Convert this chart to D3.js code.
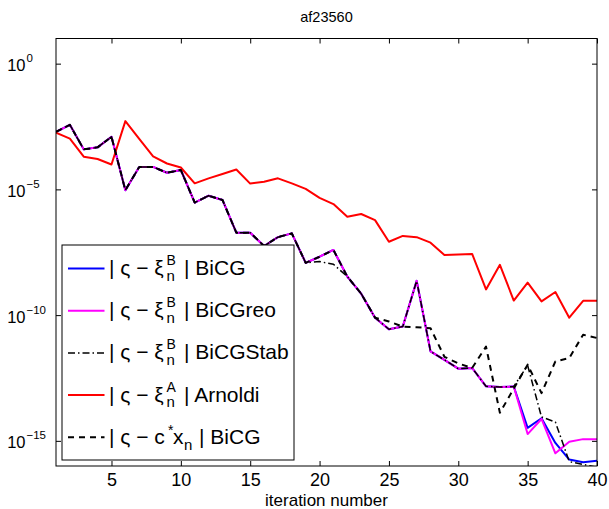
<!DOCTYPE html>
<html>
<head>
<meta charset="utf-8">
<script src="https://cdn.jsdelivr.net/npm/d3@7"></script>
<style>
  body { margin: 0; background: #fff; }
  text { font-family: "Liberation Sans", Arial, Helvetica, sans-serif; fill: #000; }
</style>
</head>
<body>
<svg id="chart" width="609" height="509"></svg>
<script>
// Error of the bilinear-form estimates per iteration, matrix af23560
const iterations = [1, 2, 3, 4, 5, 6, 7, 8, 9, 10, 11, 12, 13, 14, 15, 16, 17, 18, 19, 20,
                    21, 22, 23, 24, 25, 26, 27, 28, 29, 30, 31, 32, 33, 34, 35, 36, 37, 38, 39, 40];

const bicg = [1.95e-3, 3.7e-3, 3.9e-4, 4.7e-4, 1.23e-3, 9.3e-6, 7.8e-5, 7.8e-5, 4.6e-5, 5.9e-5,
              3.0e-6, 5.6e-6, 3.8e-6, 1.9e-7, 1.9e-7, 5.6e-8, 1.26e-7, 1.78e-7, 1.2e-8, 2.1e-8,
              3.9e-8, 3.4e-9, 7.1e-10, 7.9e-11, 2.75e-11, 3.5e-11, 2.3e-9, 3.6e-12, 1.66e-12, 7.4e-13,
              7.9e-13, 1.48e-13, 1.38e-13, 1.45e-13, 3.3e-15, 7.9e-15, 8.3e-16, 1.8e-16, 1.4e-16, 1.6e-16];

const bicgReo = [1.95e-3, 3.7e-3, 3.9e-4, 4.7e-4, 1.23e-3, 9.3e-6, 7.8e-5, 7.8e-5, 4.6e-5, 5.9e-5,
                 3.0e-6, 5.6e-6, 3.8e-6, 1.9e-7, 1.9e-7, 5.6e-8, 1.26e-7, 1.78e-7, 1.2e-8, 2.1e-8,
                 3.9e-8, 3.4e-9, 7.1e-10, 7.9e-11, 2.75e-11, 3.5e-11, 2.3e-9, 3.6e-12, 1.66e-12, 7.4e-13,
                 7.9e-13, 1.48e-13, 1.38e-13, 1.45e-13, 1.86e-15, 7.4e-15, 3.2e-16, 9.3e-16, 1.17e-15, 1.17e-15];

const bicgStab = [1.95e-3, 3.7e-3, 3.9e-4, 4.7e-4, 1.23e-3, 9.3e-6, 7.8e-5, 7.8e-5, 4.6e-5, 5.9e-5,
                  3.0e-6, 5.6e-6, 3.8e-6, 1.9e-7, 1.9e-7, 5.6e-8, 1.26e-7, 1.78e-7, 1.2e-8, 1.35e-8,
                  1.05e-8, 3.4e-9, 7.1e-10, 7.9e-11, 2.75e-11, 3.5e-11, 2.3e-9, 3.6e-12, 1.66e-12, 7.4e-13,
                  7.9e-13, 1.48e-13, 1.38e-13, 1.45e-13, 1.0e-12, 8.9e-15, 5.6e-15, 1.5e-16, 1.15e-16, 8.9e-17];

const arnoldi = [1.78e-3, 1.05e-3, 2.0e-4, 1.62e-4, 9.8e-5, 5.2e-3, 1.02e-3, 2.04e-4, 1.07e-4, 7.4e-5,
                 1.74e-5, 2.75e-5, 4.1e-5, 6.2e-5, 1.7e-5, 2.0e-5, 2.75e-5, 1.74e-5, 1.05e-5, 4.6e-6,
                 2.6e-6, 8.1e-7, 1.05e-6, 6.0e-7, 8.3e-8, 1.41e-7, 1.26e-7, 7.6e-8, 2.45e-8, 2.6e-8,
                 2.7e-8, 1.05e-9, 1.0e-8, 3.8e-10, 1.95e-9, 3.5e-10, 8.3e-10, 7.9e-11, 3.7e-10, 3.7e-10];

const cxBicg = [1.95e-3, 3.7e-3, 3.9e-4, 4.7e-4, 1.23e-3, 9.3e-6, 7.8e-5, 7.8e-5, 4.6e-5, 5.9e-5,
                3.0e-6, 5.6e-6, 3.8e-6, 1.9e-7, 1.9e-7, 5.6e-8, 1.26e-7, 1.78e-7, 1.2e-8, 2.1e-8,
                3.9e-8, 3.4e-9, 7.1e-10, 7.9e-11, 5.6e-11, 3.5e-11, 3.3e-11, 3.0e-11, 2.2e-12, 1.2e-12,
                7.9e-13, 5.6e-12, 1.3e-14, 1.2e-13, 1.07e-12, 7.9e-14, 1.45e-12, 1.95e-12, 1.66e-11, 1.23e-11];

const xTicks = [5, 10, 15, 20, 25, 30, 35, 40];
const yTicks = [1e0, 1e-5, 1e-10, 1e-15];
const yTickExponents = ["0", "\u22125", "\u221210", "\u221215"];
const titleText = "af23560";
const xLabelText = "iteration number";

// plot frame
const plotLeft = 56, plotRight = 597, plotTop = 38.5, plotBottom = 466;
const svg = d3.select("#chart");

const x = d3.scaleLinear().domain([1, 40]).range([plotLeft, plotRight]);
const y = d3.scaleLog().domain([1e-16, 1e1]).range([plotBottom, plotTop]);

svg.append("defs").append("clipPath").attr("id", "plotClip")
  .append("rect").attr("x", plotLeft).attr("y", plotTop)
  .attr("width", plotRight - plotLeft).attr("height", plotBottom - plotTop);

// series in drawing order
const series = [
  { values: bicg,     color: "#0000ff", width: 2,   dash: null },
  { values: bicgReo,  color: "#ff00ff", width: 2,   dash: null },
  { values: bicgStab, color: "#000000", width: 1.5, dash: "7,3,1.5,3" },
  { values: arnoldi,  color: "#ff0000", width: 2,   dash: null },
  { values: cxBicg,   color: "#000000", width: 2,   dash: "6,5" }
];

const line = d3.line()
  .x((d, i) => x(iterations[i]))
  .y(d => y(d));

const lines = svg.append("g").attr("clip-path", "url(#plotClip)");
series.forEach(s => {
  lines.append("path")
    .datum(s.values)
    .attr("d", line)
    .attr("fill", "none")
    .attr("stroke", s.color)
    .attr("stroke-width", s.width)
    .attr("stroke-linejoin", "round")
    .attr("stroke-dasharray", s.dash);
});

// axes: inward ticks on all four sides
const tickLen = 5;
const gBottom = svg.append("g").attr("transform", `translate(0,${plotBottom})`)
  .call(d3.axisBottom(x).tickValues(xTicks).tickSizeInner(-tickLen).tickSizeOuter(0));
gBottom.selectAll("text").attr("y", 19.5).attr("dy", null)
  .style("font-size", "18px");

svg.append("g").attr("transform", `translate(0,${plotTop})`)
  .call(d3.axisTop(x).tickValues(xTicks).tickSizeInner(-tickLen).tickSizeOuter(0).tickFormat(""));

svg.append("g").attr("transform", `translate(${plotLeft},0)`)
  .call(d3.axisLeft(y).tickValues(yTicks).tickSizeInner(-tickLen).tickSizeOuter(0).tickFormat(""));

svg.append("g").attr("transform", `translate(${plotRight},0)`)
  .call(d3.axisRight(y).tickValues(yTicks).tickSizeInner(-tickLen).tickSizeOuter(0).tickFormat(""));

svg.selectAll(".domain").remove();
svg.selectAll(".tick line").attr("stroke", "#000");

// power-of-ten labels on the y axis
const yLab = svg.append("g");
yTicks.forEach((v, i) => {
  const ty = y(v);
  yLab.append("text").attr("x", 25.5).attr("y", ty + 7.5)
    .attr("text-anchor", "end").style("font-size", "16.5px").text("10");
  yLab.append("text").attr("x", 26.5).attr("y", ty - 1.5)
    .style("font-size", "11.5px").text(yTickExponents[i]);
});

// frame
svg.append("rect")
  .attr("x", plotLeft).attr("y", plotTop)
  .attr("width", plotRight - plotLeft).attr("height", plotBottom - plotTop)
  .attr("fill", "none").attr("stroke", "#000").attr("stroke-width", 1);

// title and axis label
svg.append("text").attr("x", (plotLeft + plotRight) / 2).attr("y", 22)
  .attr("text-anchor", "middle").style("font-size", "14.5px").text(titleText);
svg.append("text").attr("x", (plotLeft + plotRight) / 2).attr("y", 505.5)
  .attr("text-anchor", "middle").style("font-size", "17px").text(xLabelText);

// legend
const legendEntries = [
  { s: series[0], lead: "| \u03c2 \u2212 \u03be", sup: "B", name: "| BiCG" },
  { s: series[1], lead: "| \u03c2 \u2212 \u03be", sup: "B", name: "| BiCGreo" },
  { s: series[2], lead: "| \u03c2 \u2212 \u03be", sup: "B", name: "| BiCGStab" },
  { s: series[3], lead: "| \u03c2 \u2212 \u03be", sup: "A", name: "| Arnoldi" },
  { s: series[4], lead: "| \u03c2 \u2212 c",      sup: "*", name: "| BiCG", vector: "x" }
];

const lg = svg.append("g");
lg.append("rect").attr("x", 62).attr("y", 245).attr("width", 232).attr("height", 215)
  .attr("fill", "#fff").attr("stroke", "#000").attr("stroke-width", 1);

legendEntries.forEach((e, i) => {
  const by = 275 + i * 42.2;
  lg.append("line").attr("x1", 68).attr("x2", 104.5)
    .attr("y1", by - 6.5).attr("y2", by - 6.5)
    .attr("stroke", e.s.color).attr("stroke-width", e.s.width)
    .attr("stroke-dasharray", e.s.dash);
  lg.append("text").attr("x", 109).attr("y", by).style("font-size", "21px").text(e.lead);
  if (e.vector) {
    lg.append("text").attr("x", 168).attr("y", by - 9).style("font-size", "14px").text(e.sup);
    lg.append("text").attr("x", 173).attr("y", by).style("font-size", "21px").text(e.vector);
    lg.append("text").attr("x", 184).attr("y", by + 6).style("font-size", "15px").text("n");
    lg.append("text").attr("x", 199).attr("y", by).style("font-size", "21px").text(e.name);
  } else {
    lg.append("text").attr("x", 166.5).attr("y", by - 10).style("font-size", "14px").text(e.sup);
    lg.append("text").attr("x", 166.5).attr("y", by + 5.5).style("font-size", "15px").text("n");
    lg.append("text").attr("x", 184).attr("y", by).style("font-size", "21px").text(e.name);
  }
});
</script>
</body>
</html>
